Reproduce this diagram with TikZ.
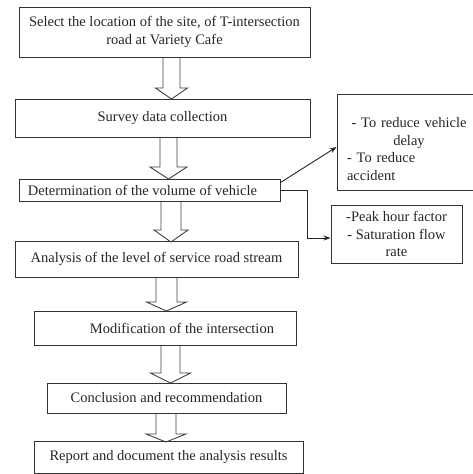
\documentclass[tikz,border=0pt]{standalone}
\usepackage{fontspec}
\setmainfont{Liberation Serif}
\usetikzlibrary{arrows.meta}
\begin{document}
\begin{tikzpicture}[x=1pt,y=-1pt,
  box/.style={draw=black!80, line width=0.9pt, rectangle, inner sep=0pt, text=black!85,
    font=\fontsize{14.5}{17.5}\selectfont, align=center},
  txt/.style={inner sep=0pt, text=black!85, font=\fontsize{14.5}{17.5}\selectfont},
  blk/.style={draw=black!75, line width=0.9pt, line join=miter},
  conn/.style={draw=black!85, line width=0.9pt, -{Stealth[length=7pt,width=5pt]}}]
\useasboundingbox (0,0) rectangle (472,474);
\newcommand\blkarrow[6]{%
  \draw[blk] (#1-#2,#4) -- (#1-#2,#5) -- (#1-#3,#5) -- (#1,#6) -- (#1+#3,#5) -- (#1+#2,#5) -- (#1+#2,#4);}
% main boxes
\node[box, minimum width=291pt, minimum height=50pt] (b1) at (164.5,32)
  {Select the location of the site, of T-intersection\\road at Variety Cafe};
\node[box, minimum width=295pt, minimum height=38pt] (b2) at (162.5,118) {Survey data collection};
\node[box, minimum width=261pt, minimum height=22pt] (b3) at (149.5,190)
  {Determination of the volume of vehicle\hspace{14pt}};
\node[box, minimum width=283pt, minimum height=36pt] (b4) at (156.5,259)
  {Analysis of the level of service road stream};
\node[box, minimum width=262pt, minimum height=34pt] (b5) at (165,328)
  {\hspace{34pt}Modification of the intersection};
\node[box, minimum width=239pt, minimum height=30pt] (b6) at (166.5,398)
  {Conclusion and recommendation};
\node[box, minimum width=269pt, minimum height=32pt] (b7) at (168.5,457)
  {Report and document the analysis results};
% side boxes
\node[box, minimum width=140pt, minimum height=96pt] (bA) at (407,142) {};
\node[txt, text width=124pt, anchor=center] (tA) at (409,149)
  {\centering - To reduce vehicle\\delay\par\raggedright - To reduce\\accident\par};
\node[box, minimum width=131pt, minimum height=58pt] (bB) at (396.5,234)
  {-Peak hour factor\\- Saturation flow\\rate};
% block arrows
\blkarrow{171.5}{8.5}{16}{57}{88}{99}
\blkarrow{168.5}{8.5}{18.5}{137}{167}{179}
\blkarrow{171}{10}{17}{201}{230}{242}
\blkarrow{166.5}{10.5}{20}{277}{302}{311}
\blkarrow{170.5}{9.5}{20}{345}{373}{383}
\blkarrow{166}{10}{20}{413}{434}{442}
% connectors
\draw[conn] ([yshift=-4pt]b3.north east) -- ([yshift=-5pt]bA.west);
\coordinate (bend) at (307,238);
\draw[conn] (b3.east) -| (bend) -- (bB.west |- bend);
\end{tikzpicture}
\end{document}
